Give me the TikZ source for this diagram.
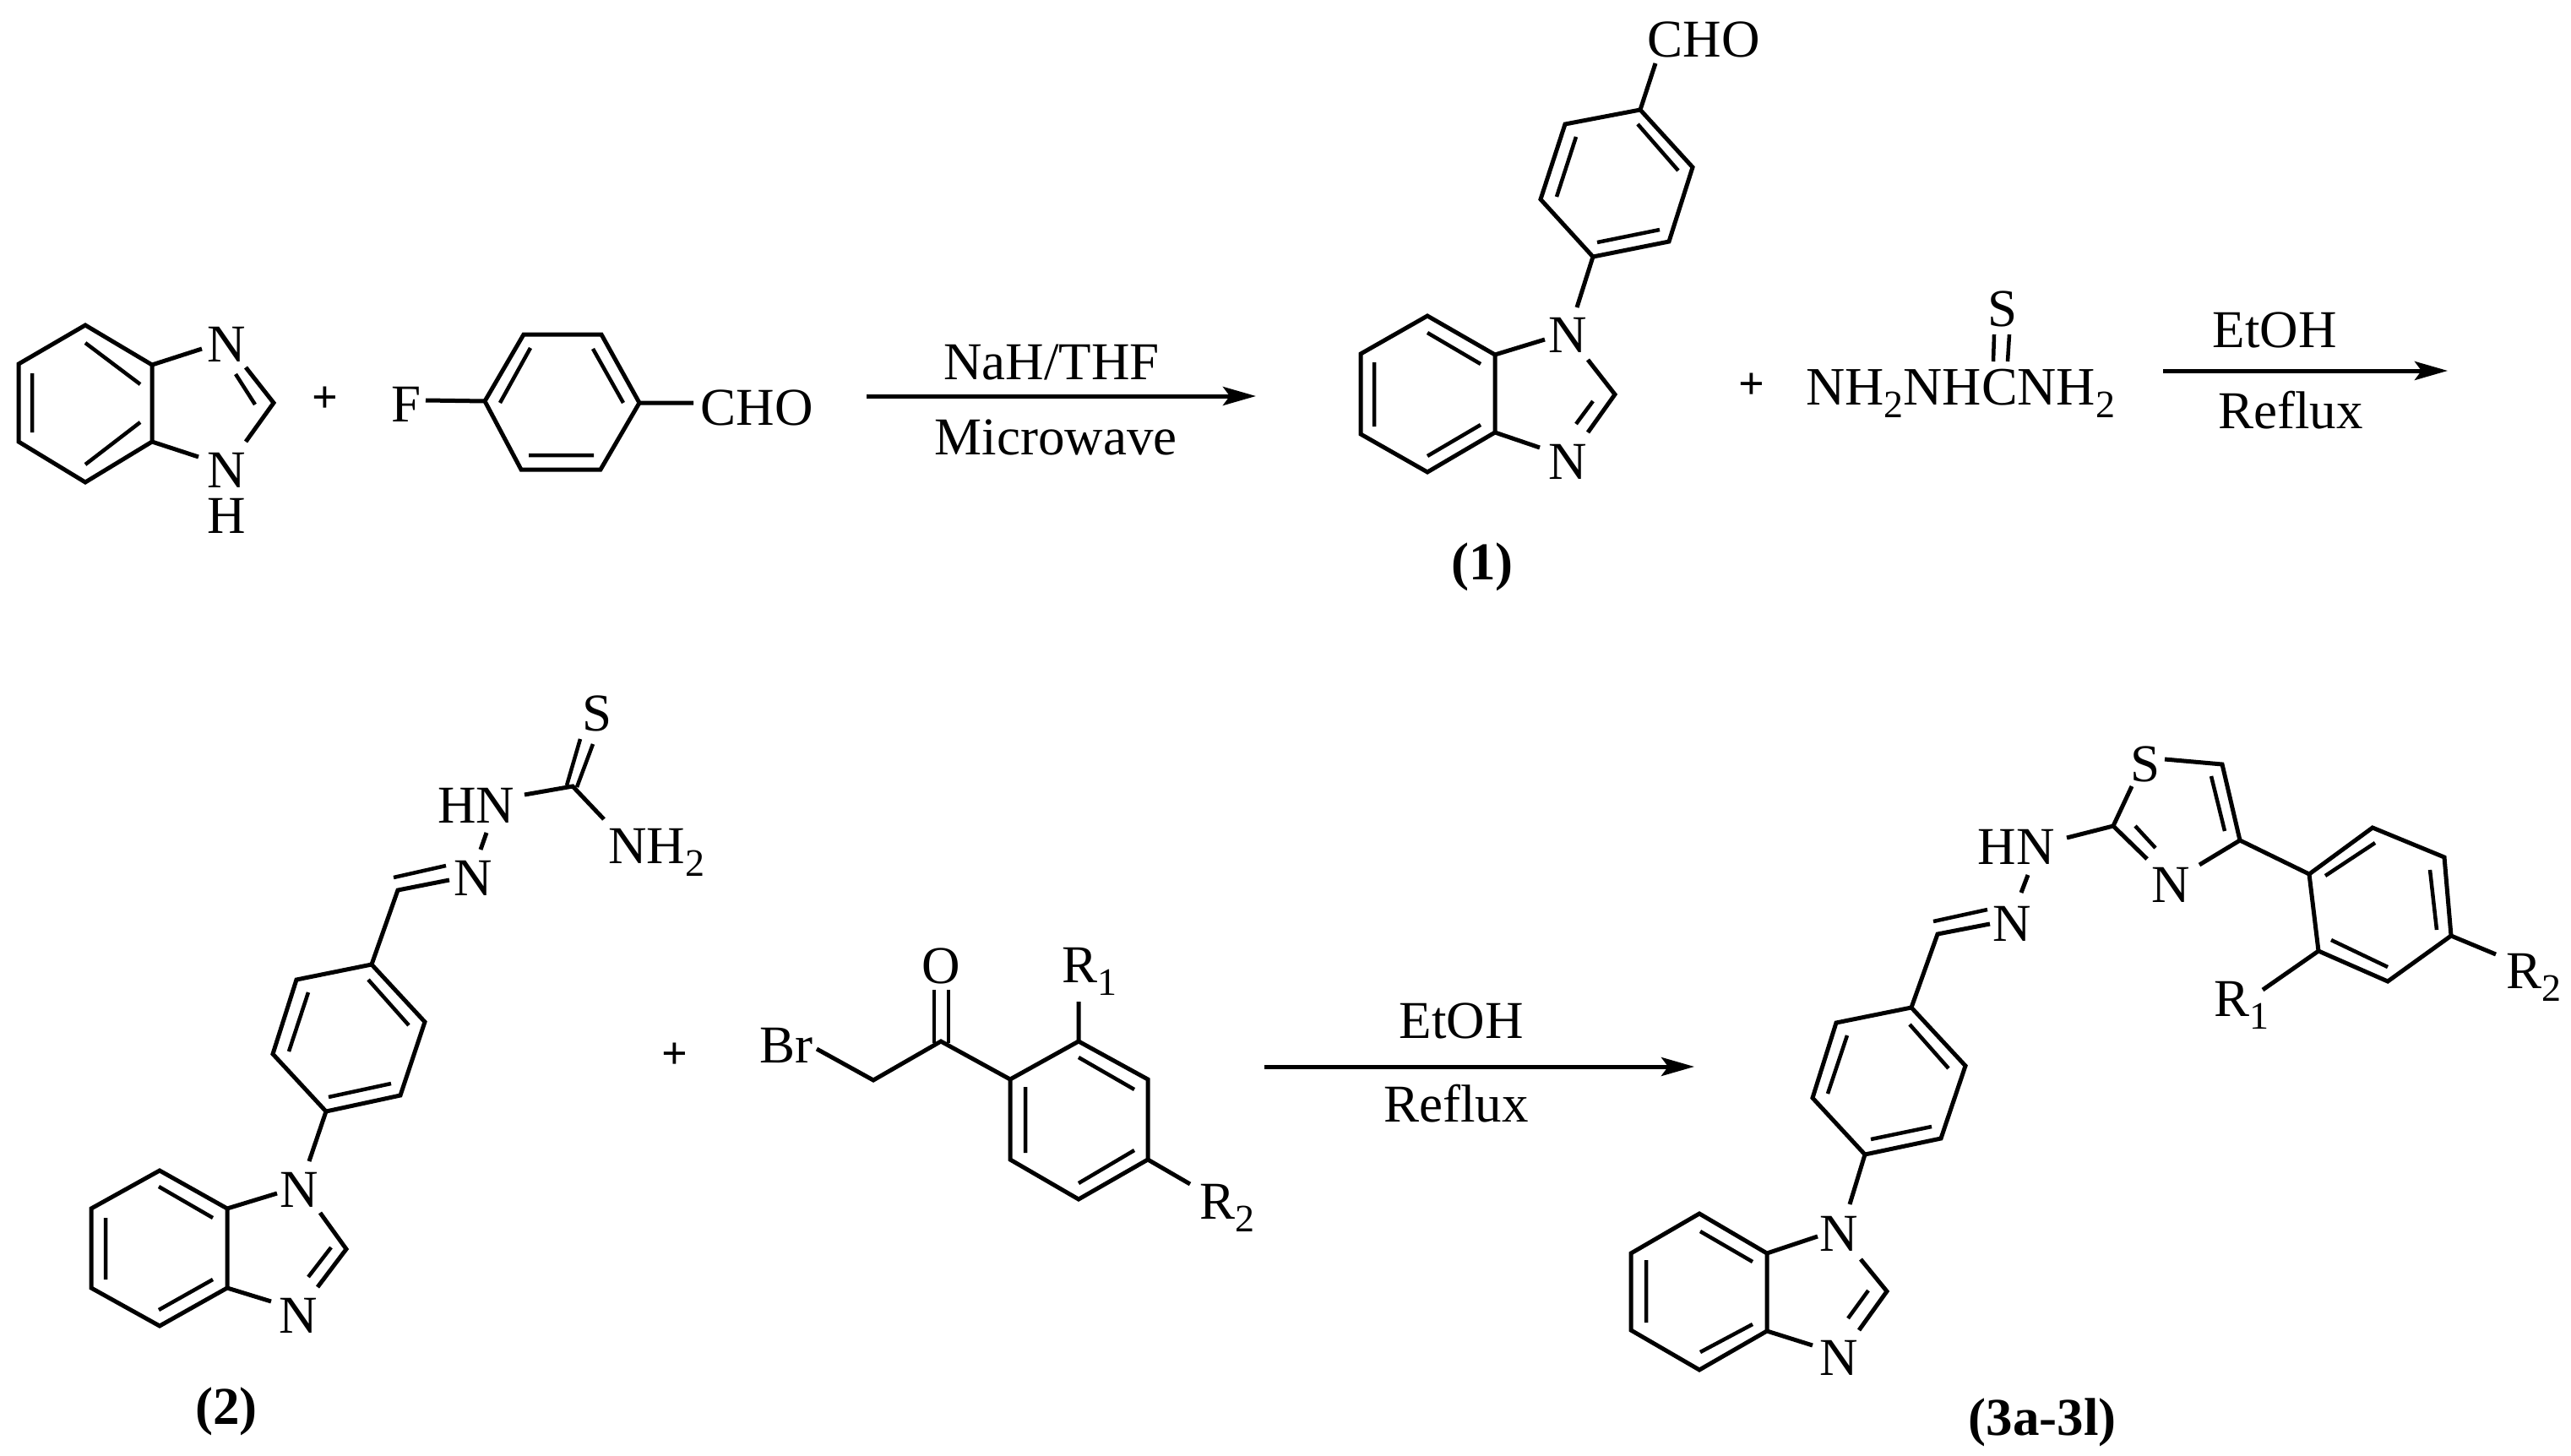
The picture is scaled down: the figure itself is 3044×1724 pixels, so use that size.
\documentclass[tikz,border=0pt]{standalone}
\usepackage{fontspec}
\setmainfont{Liberation Serif}
\usetikzlibrary{arrows.meta}
\newcommand{\sbt}[1]{\raisebox{-15pt}{\fontsize{46}{46}\selectfont #1}}
\tikzset{
  x=1pt,y=-1pt,
  bond/.style={line width=5pt,line join=miter,line cap=butt,black},
  inner/.style={line width=4.5pt,line cap=butt,black},
  lab/.style={font=\fontsize{63}{63}\selectfont,inner sep=0pt,anchor=base},
  labw/.style={lab,anchor=base west},
  boldlab/.style={font=\fontsize{63}{63}\selectfont\bfseries,inner sep=0pt,anchor=base},
  plussign/.style={font=\fontsize{54}{54}\selectfont\bfseries,inner sep=0pt,anchor=center},
  rxn/.style={line width=5pt,-{Stealth[length=39pt,width=22pt,inset=8pt]},black}
}
\begin{document}
\begin{tikzpicture}
\useasboundingbox (0,0) rectangle (3044,1724);
% ---------- benzimidazole
\draw[bond] (180,432) -- (101,385) -- (22,431) -- (22,523) -- (101,571) -- (180,523) -- cycle;
\draw[inner] (101,406) -- (166,455) (38,442) -- (38,512) (101,550) -- (166,500);
\draw[bond] (180,432) -- (239,413) (180,523) -- (235,541);
\draw[bond] (291,435) -- (324,477) -- (291,523);
\draw[inner] (279,443) -- (302,479);
\node[lab] (a1) at (268,428) {N};
\node[lab] (a2) at (268,577) {N};
\node[lab] (a3) at (268,631) {H};
\node[plussign] (p1) at (385,473) {+};
% ---------- fluorobenzaldehyde
\draw[bond] (574,475) -- (620,396) -- (712,396) -- (757,477) -- (711,556) -- (617,556) -- cycle;
\draw[inner] (628,412) -- (592,477) (702,413) -- (738,477) (626,539) -- (703,539);
\draw[bond] (504,474) -- (574,475) (757,477) -- (821,477);
\node[lab] (b1) at (481,499) {F};
\node[lab] (b2) at (896,503) {CHO};
% ---------- arrow 1
\coordinate (r1s) at (1026,469);
\coordinate (r1e) at (1487,469);
\draw[rxn] (r1s) -- (r1e);
\node[lab] (r1a) at (1245,449) {NaH/THF};
\node[lab] (r1b) at (1250,538) {Microwave};
% ---------- compound 1
\draw[bond] (1942,130) -- (2004,198) -- (1976,286) -- (1886,304) -- (1824,236) -- (1853,147) -- cycle;
\draw[inner] (1939,147) -- (1987,202) (1866,162) -- (1843,233) (1891,287) -- (1965,272);
\draw[bond] (1960,75) -- (1942,130) (1886,304) -- (1867,364);
\draw[bond] (1770,420) -- (1690,374) -- (1611,419) -- (1611,514) -- (1690,559) -- (1770,512) -- cycle;
\draw[inner] (1690,394) -- (1753,431) (1627,429) -- (1627,505) (1690,540) -- (1753,503);
\draw[bond] (1770,420) -- (1829,402) (1770,512) -- (1823,530);
\draw[bond] (1880,426) -- (1912,467) -- (1880,512);
\draw[inner] (1886,475) -- (1866,502);
\node[lab] (c1) at (2017,67) {CHO};
\node[lab] (c2) at (1856,417) {N};
\node[lab] (c3) at (1856,567) {N};
\node[boldlab] (c4) at (1755,686) {(1)};
\node[plussign] (p2) at (2074,457) {+};
% ---------- thiosemicarbazide
\node[labw,font=\fontsize{64}{64}\selectfont] (d1) at (2138,479) {NH\sbt{2}NHCNH\sbt{2}};
\node[lab] (d2) at (2371,386) {S};
\draw[inner] (2361,396) -- (2360,428) (2379,396) -- (2377,428);
% ---------- arrow 2
\coordinate (r2s) at (2561,439);
\coordinate (r2e) at (2898,439);
\draw[rxn] (r2s) -- (r2e);
\node[lab] (r2a) at (2693,411) {EtOH};
\node[lab] (r2b) at (2712,507) {Reflux};
% ---------- compound 2
\draw[bond] (621,941) -- (678,931) -- (715,970);
\draw[inner] (687,875) -- (671,930) (702,881) -- (683,932);
\draw[bond] (576,986) -- (569,1006);
\draw[bond] (532,1042) -- (471,1054) -- (440,1142);
\draw[inner] (466,1039) -- (528,1025);
\draw[bond] (440,1142) -- (503,1210) -- (474,1297) -- (386,1316) -- (323,1248) -- (351,1160) -- cycle;
\draw[inner] (436,1160) -- (484,1214) (365,1175) -- (342,1245) (389,1299) -- (463,1283);
\draw[bond] (386,1316) -- (366,1375);
\draw[bond] (269,1431) -- (189,1386) -- (108,1431) -- (108,1525) -- (189,1570) -- (269,1525) -- cycle;
\draw[inner] (188,1405) -- (252,1442) (125,1442) -- (125,1515) (188,1551) -- (252,1515);
\draw[bond] (269,1431) -- (328,1413) (269,1525) -- (321,1541);
\draw[bond] (379,1436) -- (410,1479) -- (376,1524);
\draw[inner] (392,1477) -- (365,1512);
\node[lab] (e1) at (707,865) {S};
\node[lab] (e2) at (564,974) {HN};
\node[labw] (e3) at (720,1022) {NH\sbt{2}};
\node[lab] (e4) at (560,1060) {N};
\node[lab] (e5) at (354,1429) {N};
\node[lab] (e6) at (353,1578) {N};
\node[boldlab] (e7) at (268,1686) {(2)};
\node[plussign] (p3) at (799,1250) {+};
% ---------- bromoketone
\draw[bond] (967,1242) -- (1034,1279) -- (1114,1233) -- (1196,1278);
\draw[inner] (1106,1172) -- (1106,1235) (1123,1172) -- (1123,1235);
\draw[bond] (1196,1278) -- (1277,1233) -- (1359,1278) -- (1359,1373) -- (1277,1420) -- (1196,1373) -- cycle;
\draw[inner] (1277,1252) -- (1343,1290) (1214,1287) -- (1214,1365) (1277,1401) -- (1343,1362);
\draw[bond] (1277,1233) -- (1277,1186) (1359,1373) -- (1409,1402);
\node[lab] (f1) at (1114,1164) {O};
\node[lab] (f2) at (931,1258) {Br};
\node[labw] (f3) at (1257,1163) {R\sbt{1}};
\node[labw] (f4) at (1420,1443) {R\sbt{2}};
% ---------- arrow 3
\coordinate (r3s) at (1497,1263);
\coordinate (r3e) at (2006,1263);
\draw[rxn] (r3s) -- (r3e);
\node[lab] (r3a) at (1730,1229) {EtOH};
\node[lab] (r3b) at (1724,1328) {Reflux};
% ---------- compound 3
\draw[bond] (2563,899) -- (2631,905) -- (2652,995) -- (2604,1024);
\draw[inner] (2618,919) -- (2634,984);
\draw[bond] (2524,931) -- (2502,978) -- (2542,1017);
\draw[inner] (2528,978) -- (2552,1004);
\draw[bond] (2502,978) -- (2447,992);
\draw[bond] (2401,1036) -- (2393,1057);
\draw[bond] (2356,1094) -- (2294,1106) -- (2263,1193);
\draw[inner] (2289,1091) -- (2353,1077);
\draw[bond] (2263,1193) -- (2327,1262) -- (2298,1348) -- (2208,1367) -- (2146,1300) -- (2174,1211) -- cycle;
\draw[inner] (2261,1213) -- (2307,1265) (2187,1226) -- (2164,1295) (2215,1349) -- (2287,1334);
\draw[bond] (2208,1367) -- (2190,1426);
\draw[bond] (2092,1484) -- (2012,1437) -- (1931,1484) -- (1931,1575) -- (2012,1622) -- (2092,1576) -- cycle;
\draw[inner] (2013,1458) -- (2075,1494) (1949,1492) -- (1949,1566) (2013,1601) -- (2075,1568);
\draw[bond] (2092,1484) -- (2152,1464) (2092,1576) -- (2146,1593);
\draw[bond] (2203,1491) -- (2234,1529) -- (2201,1575);
\draw[inner] (2212,1528) -- (2188,1561);
\draw[bond] (2652,995) -- (2734,1035);
\draw[bond] (2734,1035) -- (2809,980) -- (2894,1015) -- (2902,1108) -- (2827,1162) -- (2745,1126) -- cycle;
\draw[inner] (2753,1037) -- (2812,998) (2877,1030) -- (2885,1101) (2760,1113) -- (2827,1145);
\draw[bond] (2745,1126) -- (2679,1172) (2902,1108) -- (2955,1130);
\node[lab] (g1) at (2540,925) {S};
\node[lab] (g2) at (2570,1068) {N};
\node[lab] (g3) at (2387,1023) {HN};
\node[lab] (g4) at (2382,1114) {N};
\node[lab] (g5) at (2177,1481) {N};
\node[lab] (g6) at (2177,1628) {N};
\node[boldlab] (g7) at (2418,1699) {(3a-3l)};
\node[labw] (g8) at (2621,1203) {R\sbt{1}};
\node[labw] (g9) at (2967,1170) {R\sbt{2}};
\end{tikzpicture}
\end{document}
